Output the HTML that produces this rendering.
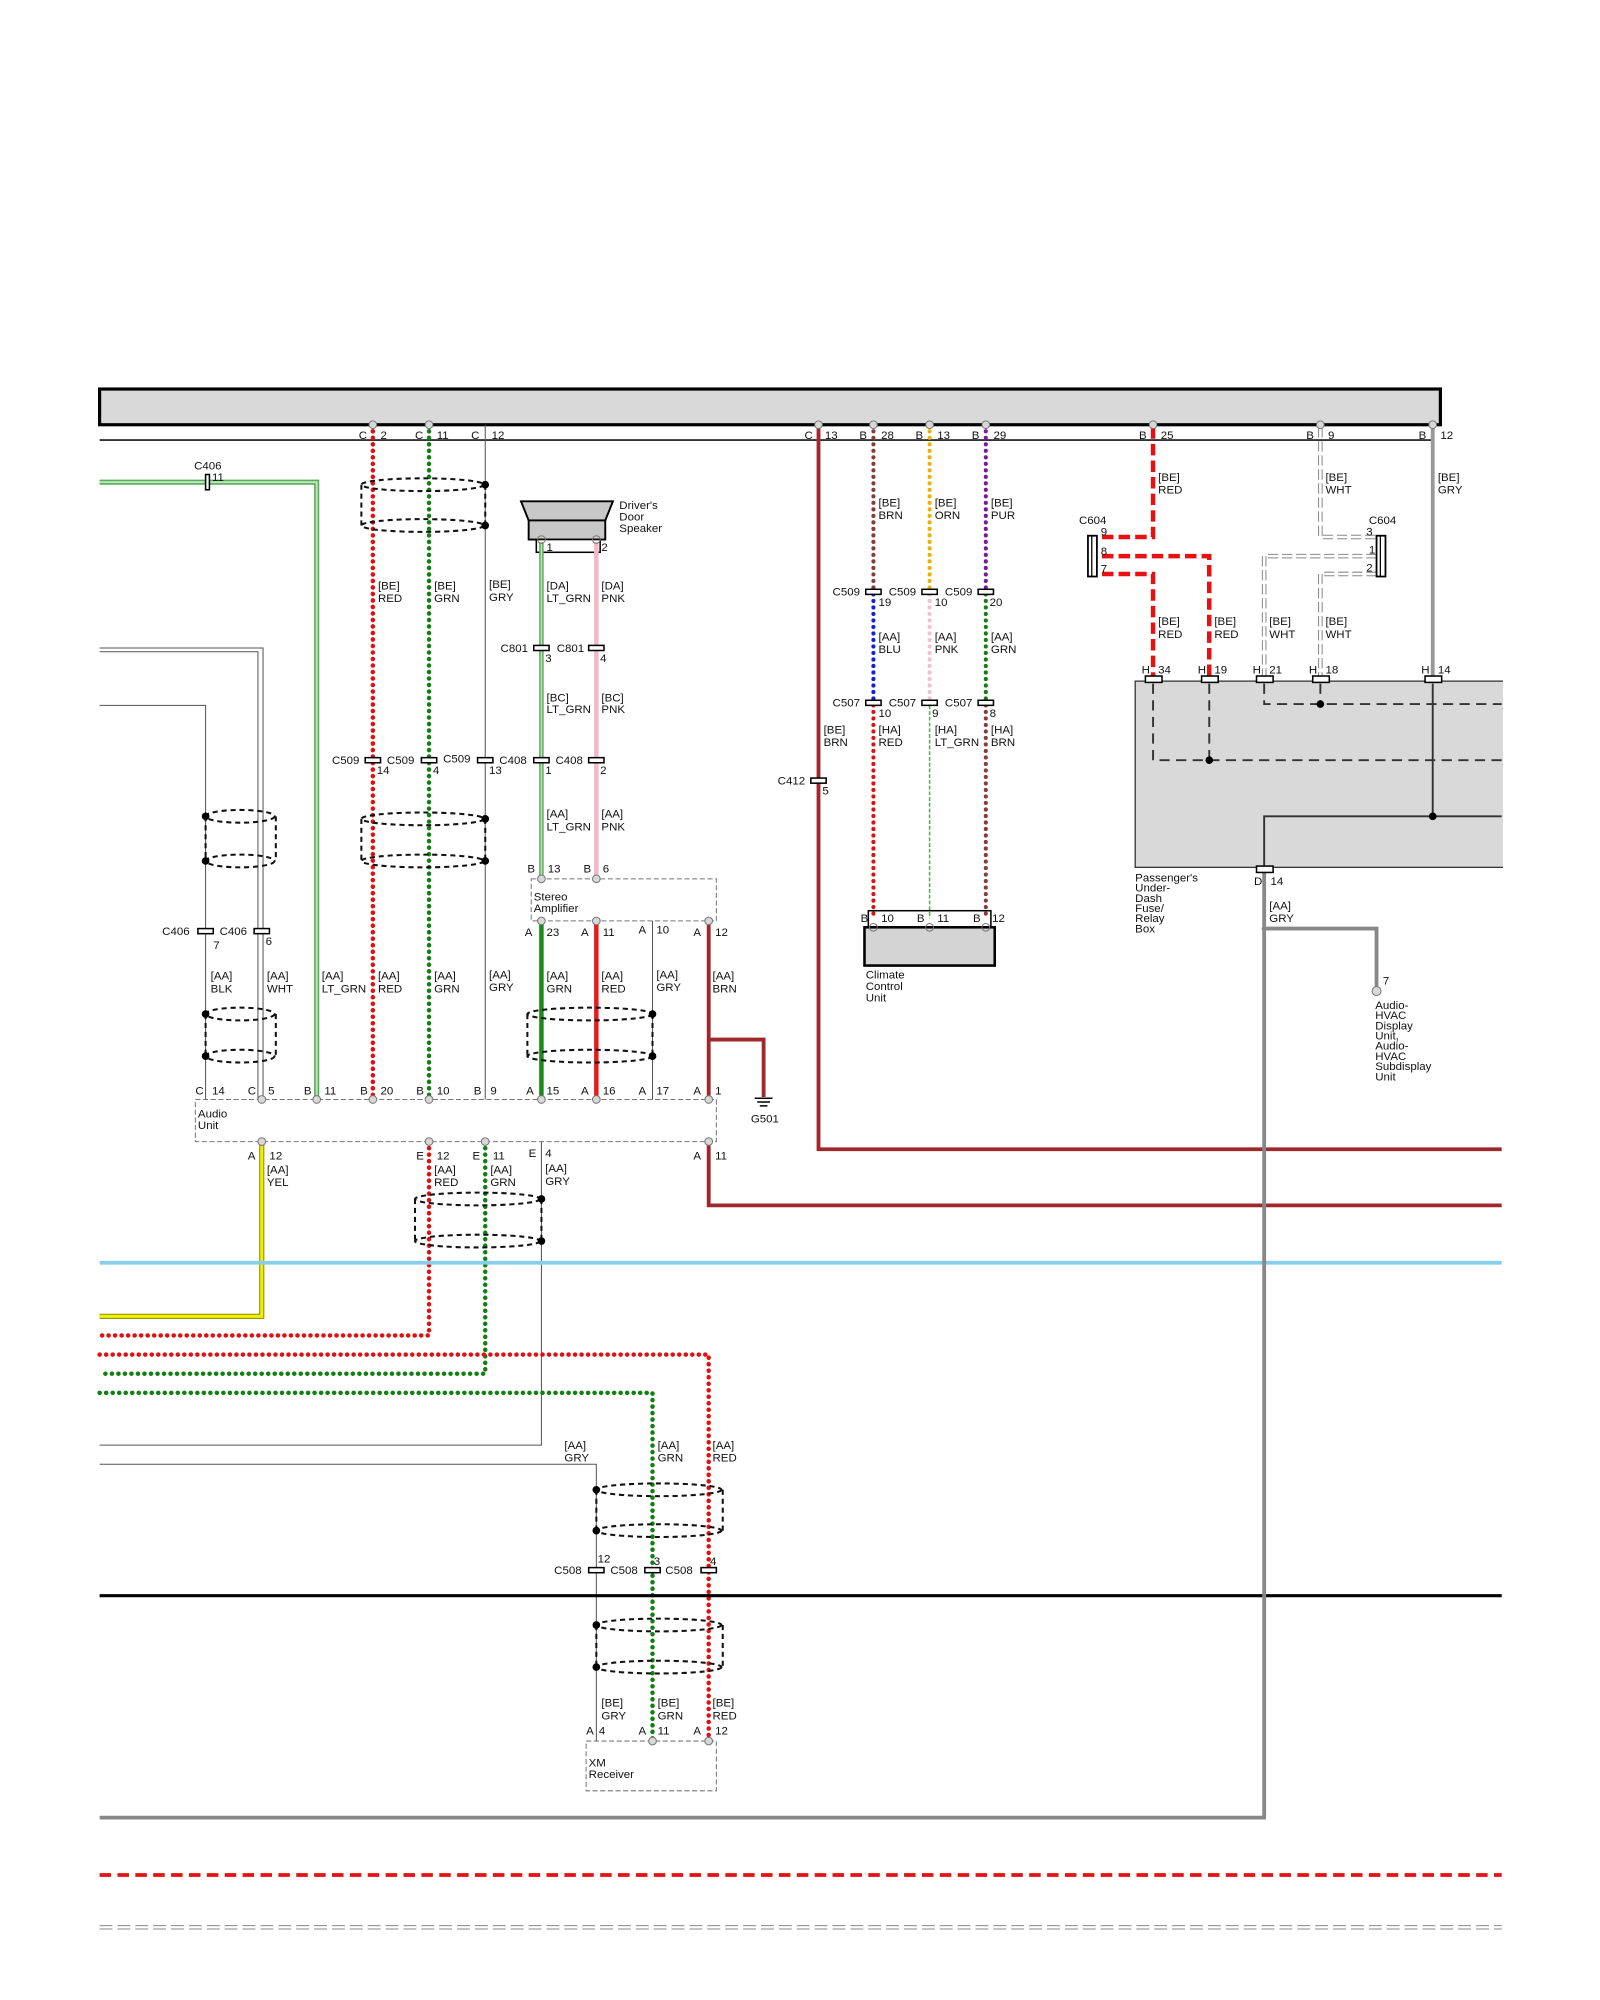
<!DOCTYPE html>
<html><head><meta charset="utf-8"><style>
html,body{margin:0;padding:0;background:#fff}
svg{display:block}
text{font-family:"Liberation Sans",sans-serif;font-size:9px;fill:#111}
.pin{fill:#d8d8d8;stroke:#777;stroke-width:.8}
.cn{fill:#fff;stroke:#000;stroke-width:1.2}
.sh{fill:none;stroke:#111;stroke-width:1.6;stroke-dasharray:4 3}
.dot{fill:#000}
.dash{fill:none;stroke:#777;stroke-width:.8;stroke-dasharray:4 2}
</style></head><body>
<svg width="1600" height="2000" viewBox="0 0 1253 1568" preserveAspectRatio="none" xmlns="http://www.w3.org/2000/svg">
<rect width="1260" height="1570" fill="#fff"/>
<!-- top bar -->
<rect x="78" y="305" width="1050" height="28" fill="#d9d9d9" stroke="#000" stroke-width="2.5"/>
<line x1="78" y1="345" x2="1122" y2="345" stroke="#333" stroke-width="1.5"/>
<line x1="1122" y1="333" x2="1122" y2="345" stroke="#333" stroke-width="1.5"/>

<!-- LT_GRN wire from left -->
<path d="M78 378 H248 V862" fill="none" stroke="#5aa85a" stroke-width="4"/>
<path d="M78 378 H248 V862" fill="none" stroke="#b8e8b8" stroke-width="1.6"/>
<rect x="161" y="372" width="3" height="12" class="cn"/>
<text x="152" y="368">C406</text><text x="166" y="377">11</text>

<!-- thin double WHT wire & BLK wire -->
<path d="M78 508 H206 V862" fill="none" stroke="#555" stroke-width=".8"/>
<path d="M78 511 H202 V862" fill="none" stroke="#555" stroke-width=".8"/>
<path d="M78 553 H161 V862" fill="none" stroke="#555" stroke-width=".8"/>

<!-- top pins columns C2 C11 C12 -->
<path d="M292 333 V862" stroke="#e01010" stroke-width="3.5" stroke-dasharray="0.1 5" stroke-linecap="round"/>
<path d="M336 333 V862" stroke="#108010" stroke-width="3.5" stroke-dasharray="0.1 5" stroke-linecap="round"/>
<line x1="380" y1="333" x2="380" y2="862" stroke="#555" stroke-width=".8"/>
<circle cx="292" cy="333" r="3" class="pin"/><circle cx="336" cy="333" r="3" class="pin"/>
<text x="281" y="344">C</text><text x="298" y="344">2</text>
<text x="325" y="344">C</text><text x="342" y="344">11</text>
<text x="369" y="344">C</text><text x="385" y="344">12</text>

<!-- shield 1 -->
<ellipse cx="331" cy="380" rx="48" ry="5" class="sh"/><ellipse cx="331" cy="412" rx="48" ry="5" class="sh"/>
<line x1="283" y1="380" x2="283" y2="412" class="sh"/><line x1="380" y1="380" x2="380" y2="412" class="sh"/>
<circle cx="380" cy="380" r="3" class="dot"/><circle cx="380" cy="412" r="3" class="dot"/>

<text x="296" y="462">[BE]</text><text x="296" y="472">RED</text>
<text x="340" y="462">[BE]</text><text x="340" y="472">GRN</text>
<text x="383" y="461">[BE]</text><text x="383" y="471">GRY</text>

<!-- speaker -->
<polygon points="408,393 480,393 474,408 414,408" fill="#c8c8c8" stroke="#000" stroke-width="1.5"/>
<rect x="414" y="408" width="60" height="15" fill="#c8c8c8" stroke="#000" stroke-width="1.5"/>
<rect x="420" y="423" width="50" height="10" fill="#fff" stroke="#000" stroke-width="1.2"/>
<text x="485" y="399">Driver's</text><text x="485" y="408">Door</text><text x="485" y="417">Speaker</text>
<text x="428" y="432">1</text><text x="471" y="432">2</text>
<path d="M424 425 V689" stroke="#5aa85a" stroke-width="3.5"/>
<path d="M424 425 V689" stroke="#b8e8b8" stroke-width="1.2"/>
<path d="M467 425 V689" stroke="#f4b8c4" stroke-width="3.5"/>
<circle cx="424" cy="423" r="3" class="pin" fill-opacity="0"/><circle cx="467" cy="423" r="3" class="pin" fill-opacity="0"/>
<text x="428" y="462">[DA]</text><text x="428" y="472">LT_GRN</text>
<text x="471" y="462">[DA]</text><text x="471" y="472">PNK</text>
<rect x="418" y="506" width="12" height="4" class="cn"/><rect x="461" y="506" width="12" height="4" class="cn"/>
<text x="392" y="511">C801</text><text x="427" y="519">3</text>
<text x="436" y="511">C801</text><text x="470" y="519">4</text>
<text x="428" y="550">[BC]</text><text x="428" y="559">LT_GRN</text>
<text x="471" y="550">[BC]</text><text x="471" y="559">PNK</text>

<!-- C509/C408 row -->
<rect x="286" y="594" width="12" height="4" class="cn"/><rect x="330" y="594" width="12" height="4" class="cn"/>
<rect x="374" y="594" width="12" height="4" class="cn"/><rect x="418" y="594" width="12" height="4" class="cn"/>
<rect x="461" y="594" width="12" height="4" class="cn"/>
<text x="260" y="599">C509</text><text x="295" y="607">14</text>
<text x="303" y="599">C509</text><text x="339" y="607">4</text>
<text x="347" y="598">C509</text><text x="383" y="607">13</text>
<text x="391" y="599">C408</text><text x="427" y="607">1</text>
<text x="435" y="599">C408</text><text x="470" y="607">2</text>

<!-- shield 2 -->
<ellipse cx="331" cy="642" rx="48" ry="5" class="sh"/><ellipse cx="331" cy="675" rx="48" ry="5" class="sh"/>
<line x1="283" y1="642" x2="283" y2="675" class="sh"/><line x1="380" y1="642" x2="380" y2="675" class="sh"/>
<circle cx="380" cy="642" r="3" class="dot"/><circle cx="380" cy="675" r="3" class="dot"/>
<text x="428" y="641">[AA]</text><text x="428" y="651">LT_GRN</text>
<text x="471" y="641">[AA]</text><text x="471" y="651">PNK</text>
<text x="413" y="684">B</text><text x="429" y="684">13</text>
<text x="457" y="684">B</text><text x="472" y="684">6</text>

<!-- stereo amplifier -->
<rect x="416" y="689" width="145" height="33" class="dash"/>
<text x="418" y="706">Stereo</text><text x="418" y="715">Amplifier</text>
<line x1="511" y1="722" x2="511" y2="862" stroke="#555" stroke-width=".8"/>
<path d="M424 722 V862" stroke="#1a8a1a" stroke-width="3.5"/>
<path d="M467 722 V862" stroke="#e81a1a" stroke-width="3.5"/>
<path d="M555 722 V862 M555 815 H598 V860" fill="none" stroke="#a0282a" stroke-width="3"/>
<circle cx="424" cy="689" r="3" class="pin"/><circle cx="467" cy="689" r="3" class="pin"/>
<circle cx="424" cy="722" r="3" class="pin"/><circle cx="467" cy="722" r="3" class="pin"/><circle cx="555" cy="722" r="3" class="pin"/>
<path d="M591 861 H605 M593 864 H603 M595 867 H601" stroke="#000" stroke-width="1.2"/>
<text x="588" y="880">G501</text>
<text x="411" y="734">A</text><text x="428" y="734">23</text>
<text x="455" y="734">A</text><text x="472" y="734">11</text>
<text x="500" y="732">A</text><text x="514" y="732">10</text>
<text x="543" y="734">A</text><text x="560" y="734">12</text>

<!-- left shields / C406 -->
<ellipse cx="188" cy="640" rx="27" ry="5" class="sh"/><ellipse cx="188" cy="675" rx="27" ry="5" class="sh"/>
<line x1="161" y1="640" x2="161" y2="675" class="sh"/><line x1="216" y1="640" x2="216" y2="675" class="sh"/>
<circle cx="161" cy="640" r="3" class="dot"/><circle cx="161" cy="675" r="3" class="dot"/>
<rect x="155" y="728" width="12" height="4" class="cn"/><rect x="199" y="728" width="12" height="4" class="cn"/>
<text x="127" y="733">C406</text><text x="167" y="744">7</text>
<text x="172" y="733">C406</text><text x="208" y="741">6</text>
<text x="165" y="768">[AA]</text><text x="165" y="778">BLK</text>
<text x="209" y="768">[AA]</text><text x="209" y="778">WHT</text>
<text x="252" y="768">[AA]</text><text x="252" y="778">LT_GRN</text>
<text x="296" y="768">[AA]</text><text x="296" y="778">RED</text>
<text x="340" y="768">[AA]</text><text x="340" y="778">GRN</text>
<text x="383" y="767">[AA]</text><text x="383" y="777">GRY</text>
<text x="428" y="768">[AA]</text><text x="428" y="778">GRN</text>
<text x="471" y="768">[AA]</text><text x="471" y="778">RED</text>
<text x="514" y="767">[AA]</text><text x="514" y="777">GRY</text>
<text x="558" y="768">[AA]</text><text x="558" y="778">BRN</text>
<ellipse cx="188" cy="795" rx="27" ry="5" class="sh"/><ellipse cx="188" cy="828" rx="27" ry="5" class="sh"/>
<line x1="161" y1="795" x2="161" y2="828" class="sh"/><line x1="216" y1="795" x2="216" y2="828" class="sh"/>
<circle cx="161" cy="795" r="3" class="dot"/><circle cx="161" cy="828" r="3" class="dot"/>
<ellipse cx="462" cy="795" rx="49" ry="5" class="sh"/><ellipse cx="462" cy="828" rx="49" ry="5" class="sh"/>
<line x1="413" y1="795" x2="413" y2="828" class="sh"/><line x1="511" y1="795" x2="511" y2="828" class="sh"/>
<circle cx="511" cy="795" r="3" class="dot"/><circle cx="511" cy="828" r="3" class="dot"/>

<!-- Audio unit -->
<rect x="153" y="862" width="408" height="33" class="dash"/>
<text x="155" y="876">Audio</text><text x="155" y="885">Unit</text>
<text x="153" y="858">C</text><text x="166" y="858">14</text>
<text x="194" y="858">C</text><text x="210" y="858">5</text>
<text x="238" y="858">B</text><text x="254" y="858">11</text>
<text x="282" y="858">B</text><text x="298" y="858">20</text>
<text x="326" y="858">B</text><text x="342" y="858">10</text>
<text x="371" y="858">B</text><text x="384" y="858">9</text>
<text x="412" y="858">A</text><text x="428" y="858">15</text>
<text x="455" y="858">A</text><text x="472" y="858">16</text>
<text x="500" y="858">A</text><text x="514" y="858">17</text>
<text x="543" y="858">A</text><text x="560" y="858">1</text>
<g class="pin"><circle cx="205" cy="862" r="3"/><circle cx="248" cy="862" r="3"/><circle cx="292" cy="862" r="3"/><circle cx="336" cy="862" r="3"/><circle cx="424" cy="862" r="3"/><circle cx="467" cy="862" r="3"/><circle cx="555" cy="862" r="3"/></g>

<!-- below audio unit -->
<path d="M205 895 V1032 H78" fill="none" stroke="#8a8a00" stroke-width="4"/>
<path d="M205 895 V1032 H78" fill="none" stroke="#f0f000" stroke-width="2.4"/>
<path d="M336 895 V1047 H78" fill="none" stroke="#e01010" stroke-width="3.5" stroke-dasharray="0.1 5" stroke-linecap="round"/>
<path d="M380 895 V1077 H78" fill="none" stroke="#108010" stroke-width="3.5" stroke-dasharray="0.1 5" stroke-linecap="round"/>
<path d="M424 895 V1133 H78" fill="none" stroke="#555" stroke-width=".8"/>
<path d="M555 895 V945 H1176" fill="none" stroke="#a0282a" stroke-width="3"/>
<path d="M641 333 V901 H1176" fill="none" stroke="#a0282a" stroke-width="3"/>
<g class="pin"><circle cx="205" cy="895" r="3"/><circle cx="336" cy="895" r="3"/><circle cx="380" cy="895" r="3"/><circle cx="555" cy="895" r="3"/><circle cx="641" cy="333" r="3"/></g>
<text x="194" y="909">A</text><text x="211" y="909">12</text>
<text x="326" y="909">E</text><text x="342" y="909">12</text>
<text x="370" y="909">E</text><text x="386" y="909">11</text>
<text x="414" y="907">E</text><text x="427" y="907">4</text>
<text x="543" y="909">A</text><text x="560" y="909">11</text>
<text x="209" y="920">[AA]</text><text x="209" y="930">YEL</text>
<text x="340" y="920">[AA]</text><text x="340" y="930">RED</text>
<text x="384" y="920">[AA]</text><text x="384" y="930">GRN</text>
<text x="427" y="919">[AA]</text><text x="427" y="929">GRY</text>
<ellipse cx="374" cy="940" rx="49" ry="5" class="sh"/><ellipse cx="374" cy="973" rx="49" ry="5" class="sh"/>
<line x1="325" y1="940" x2="325" y2="973" class="sh"/><line x1="424" y1="940" x2="424" y2="973" class="sh"/>
<circle cx="424" cy="940" r="3" class="dot"/><circle cx="424" cy="973" r="3" class="dot"/>

<line x1="78" y1="990" x2="1176" y2="990" stroke="#87ceeb" stroke-width="3"/>

<path d="M78 1062 H555 V1365" fill="none" stroke="#e01010" stroke-width="3.5" stroke-dasharray="0.1 5" stroke-linecap="round"/>
<path d="M78 1092 H511 V1365" fill="none" stroke="#108010" stroke-width="3.5" stroke-dasharray="0.1 5" stroke-linecap="round"/>
<path d="M78 1148 H467 V1365" fill="none" stroke="#555" stroke-width=".8"/>
<text x="442" y="1136">[AA]</text><text x="442" y="1146">GRY</text>
<text x="515" y="1136">[AA]</text><text x="515" y="1146">GRN</text>
<text x="558" y="1136">[AA]</text><text x="558" y="1146">RED</text>
<ellipse cx="516" cy="1168" rx="49" ry="5" class="sh"/><ellipse cx="516" cy="1200" rx="49" ry="5" class="sh"/>
<line x1="467" y1="1168" x2="467" y2="1200" class="sh"/><line x1="566" y1="1168" x2="566" y2="1200" class="sh"/>
<circle cx="467" cy="1168" r="3" class="dot"/><circle cx="467" cy="1200" r="3" class="dot"/>
<rect x="461" y="1229" width="12" height="4" class="cn"/><rect x="505" y="1229" width="12" height="4" class="cn"/><rect x="549" y="1229" width="12" height="4" class="cn"/>
<text x="434" y="1234">C508</text><text x="468" y="1225">12</text>
<text x="478" y="1234">C508</text><text x="512" y="1227">3</text>
<text x="521" y="1234">C508</text><text x="556" y="1227">4</text>
<line x1="78" y1="1251" x2="1176" y2="1251" stroke="#000" stroke-width="2.5"/>
<ellipse cx="516" cy="1274" rx="49" ry="5" class="sh"/><ellipse cx="516" cy="1307" rx="49" ry="5" class="sh"/>
<line x1="467" y1="1274" x2="467" y2="1307" class="sh"/><line x1="566" y1="1274" x2="566" y2="1307" class="sh"/>
<circle cx="467" cy="1274" r="3" class="dot"/><circle cx="467" cy="1307" r="3" class="dot"/>
<text x="471" y="1338">[BE]</text><text x="471" y="1348">GRY</text>
<text x="515" y="1338">[BE]</text><text x="515" y="1348">GRN</text>
<text x="558" y="1338">[BE]</text><text x="558" y="1348">RED</text>
<text x="459" y="1360">A</text><text x="469" y="1360">4</text>
<text x="500" y="1360">A</text><text x="515" y="1360">11</text>
<text x="543" y="1360">A</text><text x="560" y="1360">12</text>
<rect x="459" y="1365" width="102" height="39" class="dash"/>
<circle cx="511" cy="1365" r="3" class="pin"/><circle cx="555" cy="1365" r="3" class="pin"/>
<text x="461" y="1385">XM</text><text x="461" y="1394">Receiver</text>

<!-- gray wire to bottom -->
<path d="M990 682 V1425 H78" fill="none" stroke="#888" stroke-width="3"/>
<line x1="78" y1="1470" x2="1176" y2="1470" stroke="#e81010" stroke-width="3" stroke-dasharray="9 5"/>
<line x1="78" y1="1511" x2="1176" y2="1511" stroke="#888" stroke-width="3.4" stroke-dasharray="10 4"/>
<line x1="78" y1="1511" x2="1176" y2="1511" stroke="#fff" stroke-width="1.8" stroke-dasharray="10 4"/>

<!-- climate columns -->
<rect x="635" y="610" width="12" height="4" class="cn"/>
<text x="609" y="615">C412</text><text x="644" y="623">5</text>
<text x="645" y="575">[BE]</text><text x="645" y="585">BRN</text>
<text x="630" y="344">C</text><text x="646" y="344">13</text>
<g stroke-width="3.2" stroke-dasharray="0.1 5" stroke-linecap="round" fill="none">
<path d="M684 333 V463" stroke="#8b3a3a"/><path d="M684 466 V550" stroke="#1020e0"/><path d="M684 553 V720" stroke="#e01010"/>
<path d="M728 333 V463" stroke="#f0b000"/><path d="M728 466 V550" stroke="#f4c0cc"/>
<path d="M772 333 V463" stroke="#7a1a9a"/><path d="M772 466 V550" stroke="#108010"/><path d="M772 553 V720" stroke="#8b3a3a"/>
</g>
<path d="M728 553 V720" stroke="#5aa85a" stroke-width="1.2" stroke-dasharray="3 1.5" fill="none"/>
<g class="pin"><circle cx="684" cy="333" r="3"/><circle cx="728" cy="333" r="3"/><circle cx="772" cy="333" r="3"/></g>
<text x="673" y="344">B</text><text x="690" y="344">28</text>
<text x="717" y="344">B</text><text x="734" y="344">13</text>
<text x="761" y="344">B</text><text x="778" y="344">29</text>
<text x="688" y="397">[BE]</text><text x="688" y="407">BRN</text>
<text x="732" y="397">[BE]</text><text x="732" y="407">ORN</text>
<text x="776" y="397">[BE]</text><text x="776" y="407">PUR</text>
<rect x="678" y="462" width="12" height="4" class="cn"/><rect x="722" y="462" width="12" height="4" class="cn"/><rect x="766" y="462" width="12" height="4" class="cn"/>
<text x="652" y="467">C509</text><text x="688" y="475">19</text>
<text x="696" y="467">C509</text><text x="732" y="475">10</text>
<text x="740" y="467">C509</text><text x="775" y="475">20</text>
<text x="688" y="502">[AA]</text><text x="688" y="512">BLU</text>
<text x="732" y="502">[AA]</text><text x="732" y="512">PNK</text>
<text x="776" y="502">[AA]</text><text x="776" y="512">GRN</text>
<rect x="678" y="549" width="12" height="4" class="cn"/><rect x="722" y="549" width="12" height="4" class="cn"/><rect x="766" y="549" width="12" height="4" class="cn"/>
<text x="652" y="554">C507</text><text x="688" y="562">10</text>
<text x="696" y="554">C507</text><text x="730" y="562">9</text>
<text x="740" y="554">C507</text><text x="775" y="562">8</text>
<text x="688" y="575">[HA]</text><text x="688" y="585">RED</text>
<text x="732" y="575">[HA]</text><text x="732" y="585">LT_GRN</text>
<text x="776" y="575">[HA]</text><text x="776" y="585">BRN</text>
<rect x="680" y="714" width="96" height="13" fill="none" stroke="#000" stroke-width="1.2"/>
<rect x="677" y="727" width="102" height="30" fill="#d4d4d4" stroke="#000" stroke-width="2"/>
<g class="pin" fill-opacity="0"><circle cx="684" cy="727" r="3"/><circle cx="728" cy="727" r="3"/><circle cx="772" cy="727" r="3"/></g>
<text x="674" y="723">B</text><text x="690" y="723">10</text>
<text x="718" y="723">B</text><text x="734" y="723">11</text>
<text x="762" y="723">B</text><text x="777" y="723">12</text>
<text x="678" y="767">Climate</text><text x="678" y="776">Control</text><text x="678" y="785">Unit</text>

<!-- RED C604 -->
<g fill="none" stroke="#e81010" stroke-width="3.5" stroke-dasharray="9 4">
<path d="M903 335 V421 H863"/><path d="M863 436 H947 V530"/><path d="M863 450 H903 V530"/>
</g>
<rect x="852" y="420" width="7" height="32" fill="#fff" stroke="#000" stroke-width="1.4"/>
<line x1="855" y1="420" x2="855" y2="452" stroke="#000"/>
<text x="845" y="411">C604</text><text x="862" y="420">9</text><text x="862" y="435">8</text><text x="862" y="449">7</text>
<circle cx="903" cy="333" r="3" class="pin"/>
<text x="892" y="344">B</text><text x="909" y="344">25</text>
<text x="907" y="377">[BE]</text><text x="907" y="387">RED</text>
<text x="907" y="490">[BE]</text><text x="907" y="500">RED</text>
<text x="951" y="490">[BE]</text><text x="951" y="500">RED</text>

<!-- WHT C604 -->
<g fill="none" stroke="#888" stroke-width="3.6" stroke-dasharray="8 3">
<path d="M1034 335 V421 H1078"/><path d="M1078 436 H990 V530"/><path d="M1078 450 H1034 V530"/>
</g>
<g fill="none" stroke="#fff" stroke-width="2" stroke-dasharray="8 3">
<path d="M1034 335 V421 H1078"/><path d="M1078 436 H990 V530"/><path d="M1078 450 H1034 V530"/>
</g>
<rect x="1078" y="420" width="7" height="32" fill="#fff" stroke="#000" stroke-width="1.4"/>
<line x1="1081" y1="420" x2="1081" y2="452" stroke="#000"/>
<text x="1072" y="411">C604</text><text x="1070" y="420">3</text><text x="1072" y="434">1</text><text x="1070" y="448">2</text>
<circle cx="1034" cy="333" r="3" class="pin"/>
<text x="1023" y="344">B</text><text x="1040" y="344">9</text>
<text x="1038" y="377">[BE]</text><text x="1038" y="387">WHT</text>
<text x="994" y="490">[BE]</text><text x="994" y="500">WHT</text>
<text x="1038" y="490">[BE]</text><text x="1038" y="500">WHT</text>

<!-- GRY B12 -->
<line x1="1122" y1="335" x2="1122" y2="532" stroke="#999" stroke-width="3"/>
<circle cx="1122" cy="333" r="3" class="pin"/>
<text x="1111" y="344">B</text><text x="1128" y="344">12</text>
<text x="1126" y="377">[BE]</text><text x="1126" y="387">GRY</text>

<!-- fuse box -->
<rect x="889" y="534" width="300" height="146" fill="#d9d9d9" stroke="#333" stroke-width="1"/>
<rect x="1177" y="530" width="90" height="160" fill="#fff"/>
<g stroke="#333" stroke-width="1.5" stroke-dasharray="8 5" fill="none">
<path d="M903 536 V596 H1176"/><path d="M947 536 V596"/><path d="M990 536 V552 H1176"/><path d="M1034 536 V552"/>
</g>
<path d="M1122 536 V640 M1176 640 H990 V680" fill="none" stroke="#333" stroke-width="1.5"/>
<circle cx="947" cy="596" r="3" class="dot"/><circle cx="1034" cy="552" r="3" class="dot"/><circle cx="1122" cy="640" r="3" class="dot"/>
<g class="cn" stroke-width="1.5"><rect x="897" y="530" width="13" height="5"/><rect x="941" y="530" width="13" height="5"/><rect x="984" y="530" width="13" height="5"/><rect x="1028" y="530" width="13" height="5"/><rect x="1116" y="530" width="13" height="5"/><rect x="984" y="679" width="13" height="5"/></g>
<text x="894" y="528">H</text><text x="907" y="528">34</text>
<text x="938" y="528">H</text><text x="951" y="528">19</text>
<text x="981" y="528">H</text><text x="994" y="528">21</text>
<text x="1025" y="528">H</text><text x="1038" y="528">18</text>
<text x="1113" y="528">H</text><text x="1126" y="528">14</text>
<text x="982" y="694">D</text><text x="995" y="694">14</text>
<text x="889" y="691">Passenger's</text><text x="889" y="699">Under-</text><text x="889" y="707">Dash</text><text x="889" y="715">Fuse/</text><text x="889" y="723">Relay</text><text x="889" y="731">Box</text>
<text x="994" y="713">[AA]</text><text x="994" y="723">GRY</text>
<path d="M990 728 H1078 V774" fill="none" stroke="#888" stroke-width="3"/>
<circle cx="990" cy="728" r="2" fill="#888"/>
<circle cx="1078" cy="777" r="3.5" class="pin"/>
<text x="1083" y="772">7</text>
<text x="1077" y="791">Audio-</text><text x="1077" y="799">HVAC</text><text x="1077" y="807">Display</text><text x="1077" y="815">Unit,</text><text x="1077" y="823">Audio-</text><text x="1077" y="831">HVAC</text><text x="1077" y="839">Subdisplay</text><text x="1077" y="847">Unit</text>
</svg>
</body></html>
